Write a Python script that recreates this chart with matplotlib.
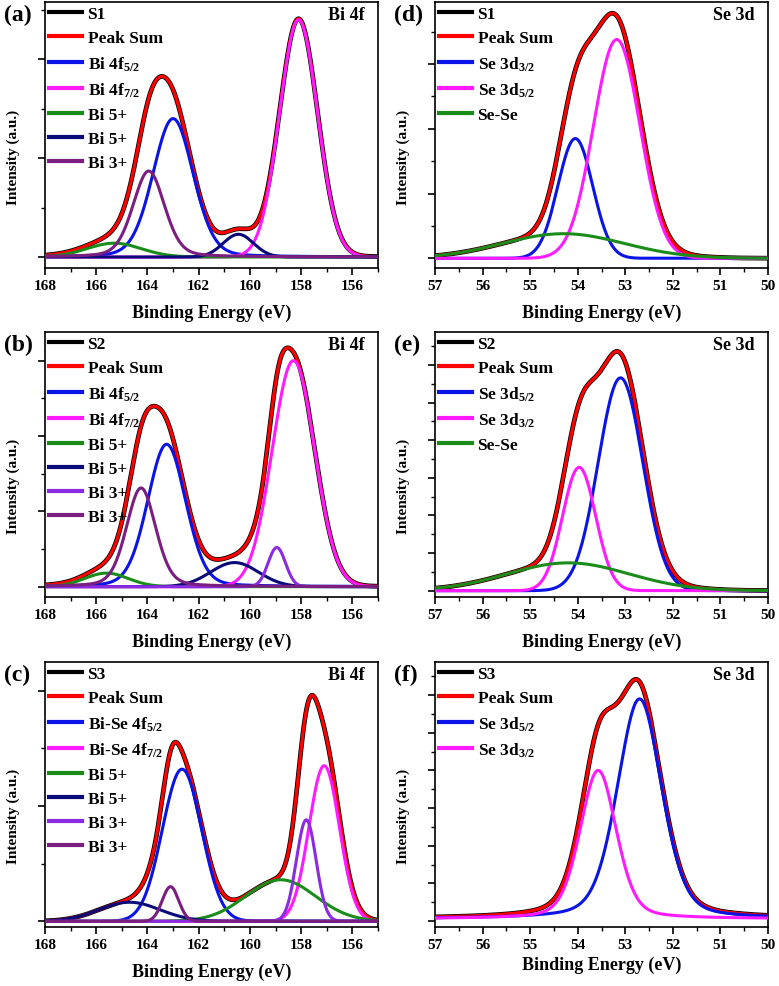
import numpy as np
import matplotlib
matplotlib.use("Agg")
import matplotlib.pyplot as plt
from matplotlib.ticker import MultipleLocator
from matplotlib.lines import Line2D

plt.rcParams['font.family'] = ['Liberation Serif', 'DejaVu Serif']
plt.rcParams['font.weight'] = 'bold'
plt.rcParams['mathtext.default'] = 'regular'

# ---------------- data (peak-fit components) ----------------
# Panel (a): S1, Bi 4f
a_labels = ['Bi 4f$_{5/2}$', 'Bi 4f$_{7/2}$', 'Bi 5+', 'Bi 5+', 'Bi 3+']
a_centers = [163.00, 158.10, 165.30, 160.45, 163.95]
a_heights = [1.40, 2.40, 0.14, 0.23, 0.87]
a_fwhm = [1.85, 1.75, 2.50, 1.40, 1.45]
a_eta = [0.15, 0.0, 0.0, 0.0, 0.25]

# Panel (b): S2, Bi 4f
b_labels = ['Bi 4f$_{5/2}$', 'Bi 4f$_{7/2}$', 'Bi 5+', 'Bi 5+', 'Bi 3+', 'Bi 3+']
b_centers = [163.25, 158.30, 165.60, 160.60, 158.95, 164.25]
b_heights = [1.89, 3.00, 0.18, 0.32, 0.52, 1.31]
b_fwhm = [1.75, 1.95, 2.00, 2.20, 0.80, 1.35]
b_eta = [0.15, 0.0, 0.0, 0.0, 0.0, 0.25]

# Panel (c): S3, Bi 4f
c_labels = ['Bi-Se 4f$_{5/2}$', 'Bi-Se 4f$_{7/2}$', 'Bi 5+', 'Bi 5+', 'Bi 3+', 'Bi 3+']
c_centers = [162.65, 157.10, 158.80, 164.70, 157.80, 163.10]
c_heights = [1.32, 1.35, 0.36, 0.165, 0.88, 0.30]
c_fwhm = [1.80, 1.40, 3.20, 2.80, 0.90, 0.75]
c_eta = [0.0, 0.0, 0.0, 0.0, 0.0, 0.0]

# Panel (d): S1, Se 3d
d_labels = ['Se 3d$_{3/2}$', 'Se 3d$_{5/2}$', 'Se-Se']
d_centers = [54.05, 53.18, 54.30]
d_heights = [1.85, 3.38, 0.38]
d_fwhm = [0.86, 1.15, 3.00]
d_eta = [0.0, 0.0, 0.0]

# Panel (e): S2, Se 3d
e_labels = ['Se 3d$_{5/2}$', 'Se 3d$_{3/2}$', 'Se-Se']
e_centers = [53.10, 53.97, 54.20]
e_heights = [2.83, 1.64, 0.37]
e_fwhm = [1.10, 0.82, 3.00]
e_eta = [0.0, 0.0, 0.0]

# Panel (f): S3, Se 3d
f_labels = ['Se 3d$_{5/2}$', 'Se 3d$_{3/2}$']
f_centers = [52.70, 53.57]
f_heights = [2.92, 1.97]
f_fwhm = [1.10, 0.90]
f_eta = [0.3, 0.3]

sample_names = ['S1', 'S2', 'S3']
bi_ticks = [168, 166, 164, 162, 160, 158, 156]
se_ticks = [57, 56, 55, 54, 53, 52, 51, 50]

# ---------------- styling ----------------
BLUE = '#0a14e6'
MAG = '#ff1aff'
GREEN = '#1a8c1a'
NAVY = '#0a0a78'
PURPLE = '#7a1f7f'
VIOLET = '#8a2be2'

a_colors = [BLUE, MAG, GREEN, NAVY, PURPLE]
b_colors = [BLUE, MAG, GREEN, NAVY, VIOLET, PURPLE]
c_colors = [BLUE, MAG, GREEN, NAVY, VIOLET, PURPLE]
d_colors = [BLUE, MAG, GREEN]
e_colors = [BLUE, MAG, GREEN]
f_colors = [BLUE, MAG]


def pvoigt(x, c, h, w, eta):
    g = np.exp(-4 * np.log(2) * ((x - c) / w) ** 2)
    l = 1.0 / (1 + 4 * ((x - c) / w) ** 2)
    return h * ((1 - eta) * g + eta * l)


fig = plt.figure(figsize=(7.79, 9.87), dpi=100)
W, H = 779, 987


def make_ax(x0, y0, x1, y1):
    return fig.add_axes([x0 / W, 1 - y1 / H, (x1 - x0) / W, (y1 - y0) / H])


panels = [
    ('(a)', (45, 3, 378, 269), (168, 155), bi_ticks, (-0.111, 2.58), 1.0, 0.5,
     a_labels, a_centers, a_heights, a_fwhm, a_eta, a_colors, 0, 'Bi 4f', 0.0, 8),
    ('(b)', (45, 333, 378, 598), (168, 155), bi_ticks, (-0.137, 3.38), 1.0, 0.5,
     b_labels, b_centers, b_heights, b_fwhm, b_eta, b_colors, 1, 'Bi 4f', 0.0, 8),
    ('(c)', (45, 663, 378, 928), (168, 155), bi_ticks, (-0.05, 2.25), 1.0, 0.5,
     c_labels, c_centers, c_heights, c_fwhm, c_eta, c_colors, 2, 'Bi 4f', 0.0, 8),
    ('(d)', (435, 3, 768, 269), (57, 50), se_ticks, (-0.15, 3.96), 1.0, 0.5,
     d_labels, d_centers, d_heights, d_fwhm, d_eta, d_colors, 0, 'Se 3d', 0.0, 8),
    ('(e)', (435, 333, 768, 598), (57, 50), se_ticks, (-0.084, 3.44), 0.5, 0.25,
     e_labels, e_centers, e_heights, e_fwhm, e_eta, e_colors, 1, 'Se 3d', 0.0, 8),
    ('(f)', (435, 663, 768, 928), (57, 50), se_ticks, (-0.08, 3.44), 0.5, 0.25,
     f_labels, f_centers, f_heights, f_fwhm, f_eta, f_colors, 2, 'Se 3d', 0.03, 3),
]

for (letter, box, xlim, ticks, ylim, ymaj, ymin, labels, centers, heights, fwhm,
     eta, colors, si, tag, bg, xpad) in panels:
    ax = make_ax(*box)
    x = np.linspace(xlim[1], xlim[0], 1200)
    comps = [pvoigt(x, c, h, w, e) for c, h, w, e in zip(centers, heights, fwhm, eta)]
    total = np.sum(comps, axis=0) + bg

    ax.plot(x, total, color='black', lw=3.4, zorder=2, solid_capstyle='round')
    ax.plot(x, total, color='red', lw=2.3, zorder=3)
    for comp, col in zip(comps, colors):
        ax.plot(x, comp + bg, color=col, lw=2.2, zorder=4)

    ax.set_xlim(*xlim)
    ax.set_ylim(*ylim)
    ax.set_xticks(ticks)
    ax.xaxis.set_minor_locator(MultipleLocator(1.0 if tag == 'Bi 4f' else 0.5))
    ax.yaxis.set_major_locator(MultipleLocator(ymaj))
    ax.yaxis.set_minor_locator(MultipleLocator(ymin))
    ax.set_yticklabels([])
    ax.tick_params(which='major', direction='out', length=5, width=1.2,
                   labelsize=11, pad=3)
    ax.tick_params(which='minor', direction='out', length=3, width=1.0)
    for lab in ax.get_xticklabels():
        lab.set_fontweight('bold')
    for sp in ax.spines.values():
        sp.set_linewidth(1.2)

    ax.set_xlabel('Binding Energy (eV)', fontsize=13, fontweight='bold', labelpad=xpad)
    ax.set_ylabel('Intensity (a.u.)', fontsize=11, fontweight='bold')
    ax.yaxis.set_label_coords(-0.076, 0.42)

    handles = [Line2D([], [], color='black', lw=3),
               Line2D([], [], color='red', lw=3)]
    handles += [Line2D([], [], color=c, lw=3) for c in colors]
    names = [sample_names[si], 'Peak Sum'] + labels
    ax.legend(handles, names, loc='upper left', frameon=False,
              prop={'family': 'Liberation Serif', 'weight': 'bold', 'size': 12.5},
              handlelength=1.9, handletextpad=0.3, labelspacing=0.45,
              borderaxespad=0.15, borderpad=0.1)

    ax.text(0.96, 0.985, tag, transform=ax.transAxes, ha='right', va='top',
            fontsize=13, fontweight='bold')
    fig.text((box[0] - 41) / W, 1 - (box[1] + 12) / H, letter,
             fontsize=17, fontweight='bold', ha='left', va='center')

fig.savefig('out.png', dpi=100)
